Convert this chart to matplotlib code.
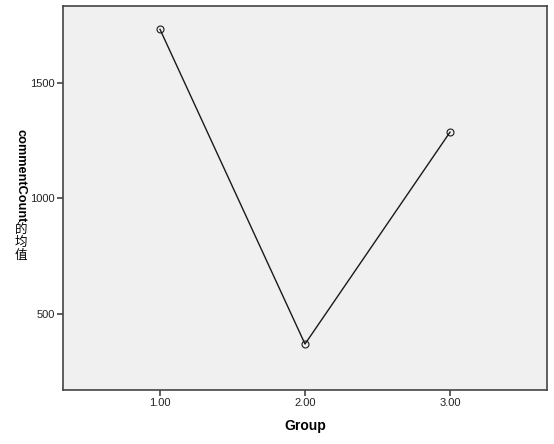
import matplotlib
matplotlib.use('Agg')
import matplotlib.pyplot as plt

plt.rcParams['font.family'] = ['Liberation Sans', 'Noto Sans CJK SC']

groups = [1.0, 2.0, 3.0]
mean_comment = [1732, 370, 1287]
xtick_labels = ['1.00', '2.00', '3.00']
yticks = [500, 1000, 1500]
ylabel_latin = 'commentCount'
ylabel_cjk = ['的', '均', '值']

W, H = 554, 444
fig = plt.figure(figsize=(W / 100, H / 100), dpi=100)
ax = fig.add_axes([0.1137, 0.1216, 0.8737, 0.8649])
ax.set_facecolor('#F0F0F0')

ax.plot(groups, mean_comment, color='#1a1a1a', linewidth=1.0,
        marker='o', markersize=5, markerfacecolor='none',
        markeredgecolor='#1a1a1a', markeredgewidth=0.8)

ax.set_xlim(0.331, 3.669)
ax.set_ylim(171, 1833)
ax.set_xticks(groups)
ax.set_xticklabels(xtick_labels)
ax.set_yticks(yticks)
ax.set_yticklabels([str(v) for v in yticks])

for side in ['top', 'right', 'left', 'bottom']:
    ax.spines[side].set_color('#444444')
    ax.spines[side].set_linewidth(1.2)
ax.tick_params(axis='both', direction='out', length=4, width=1.2,
               color='#444444', labelsize=8, labelcolor='#222222', pad=2)

ax.set_xlabel('Group', fontsize=10, fontweight='bold', labelpad=8)

# vertical y label: latin part rotated, CJK chars stacked upright
t = fig.text(20 / W, 1 - 129 / H, ylabel_latin, rotation=270, fontsize=9.2,
             fontweight='bold', ha='center', va='top')
fig.canvas.draw()
bottom_px = H - t.get_window_extent().y0
for i, ch in enumerate(ylabel_cjk):
    y = bottom_px + 8.5 + i * 12.5
    fig.text(21 / W, 1 - y / H, ch, fontsize=9, ha='center', va='center')

fig.savefig('out.png', dpi=100)
